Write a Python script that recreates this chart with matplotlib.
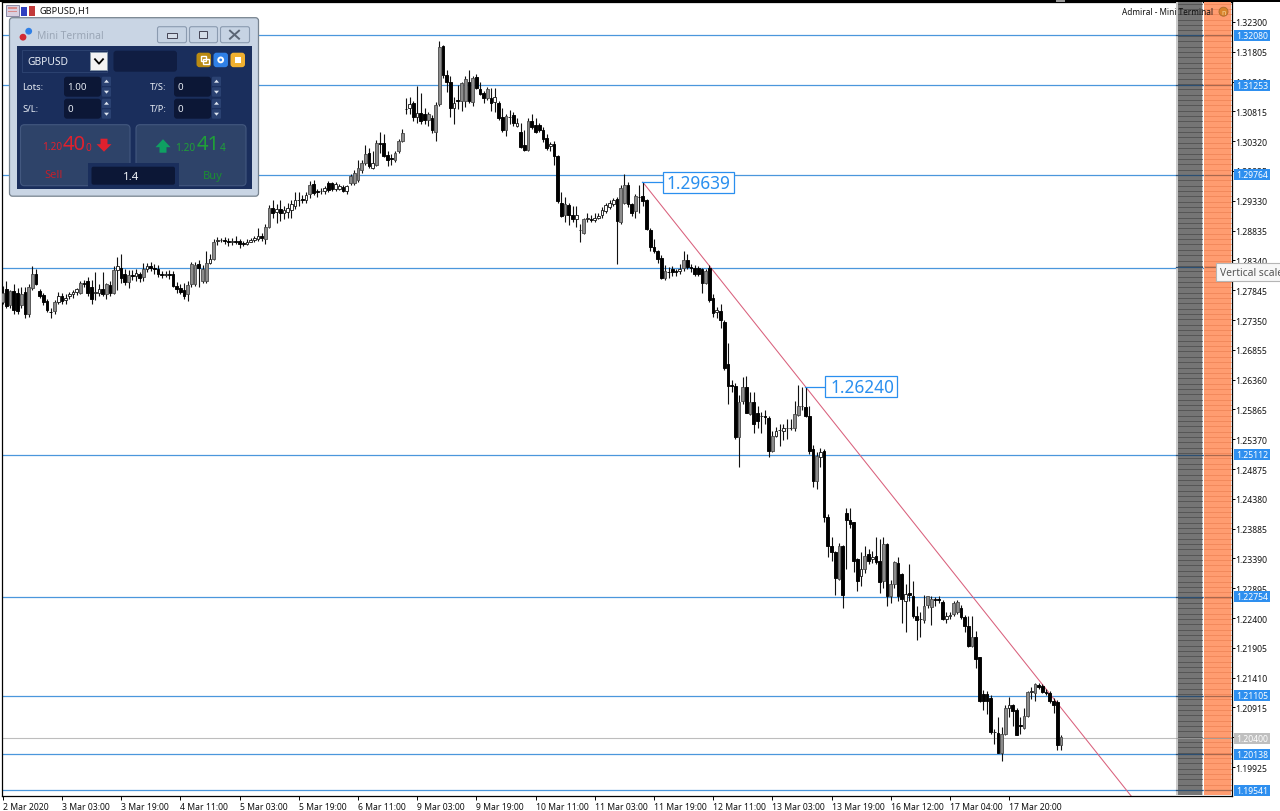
import matplotlib
matplotlib.use('Agg')
import matplotlib.pyplot as plt
from matplotlib.patches import Rectangle, FancyBboxPatch, Circle, Polygon
import numpy as np

plt.rcParams['font.family'] = ['Noto Sans', 'DejaVu Sans']

# hourly candles, price x 10000
opens = np.array([
    12765,12786,12760,12783,12780,12760,12782,12745,12788,12812,
    12783,12776,12766,12749,12750,12765,12775,12768,12775,12778,
    12782,12780,12797,12800,12790,12780,12780,12787,12778,12793,
    12780,12818,12822,12812,12798,12810,12808,12811,12806,12820,
    12824,12822,12820,12812,12810,12811,12812,12792,12788,12785,
    12778,12794,12795,12828,12800,12800,12830,12837,12866,12868,
    12868,12866,12864,12867,12866,12863,12862,12865,12868,12870,
    12875,12870,12890,12921,12915,12920,12913,12915,12918,12925,
    12935,12936,12935,12944,12961,12950,12950,12949,12963,12963,
    12952,12953,12956,12950,12963,12963,12968,12984,12995,13012,
    12988,12993,13029,13029,13009,13004,13000,13015,13032,13086,
    13087,13096,13072,13079,13078,13067,13070,13048,13093,13190,
    13142,13131,13087,13100,13098,13098,13131,13097,13139,13118,
    13112,13104,13104,13097,13095,13073,13050,13072,13075,13058,
    13048,13026,13018,13066,13059,13059,13050,13037,13024,13028,
    13007,12930,12910,12926,12910,12903,12884,12880,12903,12902,
    12901,12905,12910,12916,12922,12928,12936,12898,12930,12960,
    12927,12916,12940,12941,12934,12885,12857,12850,12838,12805,
    12815,12819,12816,12816,12821,12835,12823,12822,12821,12819,
    12797,12822,12772,12749,12750,12732,12662,12627,12625,12540,
    12600,12623,12579,12598,12580,12575,12576,12573,12518,12543,
    12552,12551,12556,12556,12556,12578,12592,12591,12575,12520,
    12468,12507,12517,12407,12360,12350,12305,12360,12414,12402,
    12399,12338,12310,12321,12346,12338,12343,12335,12302,12363,
    12277,12297,12332,12313,12269,12281,12277,12244,12238,12236,
    12261,12258,12272,12271,12266,12238,12244,12246,12250,12256,
    12242,12227,12194,12208,12175,12114,12114,12108,12050,12049,
    12016,12048,12091,12095,12088,12062,12057,12077,12117,12115,
    12129,12127,12117,12116,12103,12100,12029]) / 10000
highs = np.array([
    12791,12800,12785,12795,12788,12790,12790,12795,12824,12820,
    12787,12780,12770,12755,12768,12782,12780,12778,12782,12785,
    12788,12800,12802,12806,12802,12815,12795,12815,12797,12800,
    12825,12840,12844,12820,12818,12818,12820,12815,12830,12830,
    12832,12828,12826,12817,12816,12818,12817,12798,12795,12796,
    12800,12832,12832,12834,12826,12850,12845,12870,12873,12872,
    12873,12871,12872,12875,12870,12866,12870,12872,12875,12888,
    12880,12895,12926,12934,12928,12935,12925,12930,12935,12947,
    12947,12942,12948,12966,12968,12952,12955,12957,12966,12965,
    12964,12961,12960,12959,12978,12984,13000,13000,13025,13020,
    13016,13034,13048,13044,13016,13010,13015,13035,13052,13104,
    13105,13098,13124,13112,13087,13080,13075,13097,13199,13192,
    13150,13140,13106,13125,13130,13140,13150,13140,13143,13130,
    13115,13122,13120,13120,13098,13087,13078,13084,13080,13070,
    13062,13050,13070,13078,13070,13062,13055,13044,13030,13032,
    13009,12948,12940,12930,12925,12925,12895,12905,12912,12910,
    12912,12913,12922,12930,12935,12937,12940,12960,12977,12964,
    12930,12945,12960,12964,12936,12887,12870,12852,12843,12827,
    12823,12825,12820,12828,12850,12845,12828,12826,12824,12822,
    12820,12827,12778,12757,12762,12735,12697,12636,12630,12610,
    12640,12642,12615,12615,12592,12583,12585,12576,12550,12558,
    12563,12563,12570,12571,12600,12627,12624,12624,12592,12528,
    12516,12523,12520,12412,12375,12352,12365,12362,12423,12422,
    12400,12340,12350,12359,12354,12352,12375,12371,12375,12365,
    12303,12335,12342,12315,12296,12330,12302,12260,12250,12278,
    12277,12277,12275,12276,12270,12250,12250,12268,12270,12261,
    12245,12243,12243,12218,12176,12120,12118,12112,12056,12076,
    12059,12095,12109,12098,12090,12075,12090,12118,12125,12132,
    12132,12130,12122,12118,12107,12104,12046]) / 10000
lows = np.array([
    12761,12755,12755,12745,12745,12755,12738,12740,12785,12793,
    12772,12760,12748,12738,12745,12762,12762,12762,12770,12772,
    12777,12778,12790,12775,12762,12768,12775,12775,12770,12775,
    12778,12785,12797,12793,12788,12802,12800,12798,12800,12815,
    12816,12812,12806,12804,12806,12803,12790,12780,12778,12770,
    12767,12790,12792,12790,12797,12797,12828,12835,12860,12864,
    12862,12858,12860,12862,12855,12858,12860,12864,12865,12866,
    12866,12862,12888,12905,12896,12900,12903,12905,12905,12920,
    12925,12930,12930,12938,12943,12939,12944,12945,12948,12950,
    12950,12951,12948,12945,12960,12960,12965,12980,12992,12988,
    12985,12990,13012,13005,12990,12992,12998,13012,13030,13078,
    13077,13065,13062,13060,13060,13058,13045,13033,13091,13137,
    13114,13072,13060,13085,13082,13088,13095,13090,13118,13108,
    13095,13100,13082,13080,13068,13047,13040,13060,13058,13056,
    13020,13016,13015,13052,13046,13048,13030,13018,13016,12992,
    12930,12906,12898,12892,12898,12890,12865,12878,12898,12897,
    12897,12902,12905,12912,12920,12924,12828,12895,12928,12922,
    12907,12905,12912,12925,12885,12849,12846,12830,12803,12802,
    12804,12808,12808,12812,12817,12820,12815,12808,12808,12780,
    12795,12765,12740,12738,12721,12652,12595,12615,12538,12491,
    12595,12580,12577,12548,12555,12547,12562,12508,12515,12540,
    12525,12535,12538,12552,12550,12575,12585,12574,12512,12457,
    12455,12491,12400,12341,12335,12278,12303,12257,12322,12390,
    12317,12285,12293,12315,12329,12332,12330,12281,12290,12260,
    12265,12290,12268,12232,12217,12268,12240,12204,12208,12232,
    12257,12229,12260,12265,12236,12232,12238,12243,12247,12238,
    12217,12192,12192,12157,12100,12088,12080,12048,12030,12016,
    12003,12045,12075,12060,12045,12048,12055,12075,12105,12102,
    12122,12115,12112,12099,12082,12021,12021]) / 10000
closes = np.array([
    12780,12758,12783,12752,12750,12778,12745,12790,12812,12795,
    12775,12765,12752,12748,12765,12775,12767,12772,12778,12781,
    12786,12797,12795,12780,12770,12782,12787,12778,12794,12780,
    12818,12825,12805,12798,12810,12808,12813,12805,12820,12824,
    12822,12820,12812,12810,12811,12810,12792,12786,12782,12775,
    12793,12828,12826,12822,12820,12830,12837,12865,12868,12868,
    12866,12864,12867,12865,12862,12862,12865,12868,12871,12874,
    12872,12890,12921,12913,12920,12913,12917,12921,12927,12934,
    12935,12934,12943,12960,12946,12948,12950,12954,12951,12952,
    12961,12958,12950,12957,12974,12980,12987,12996,13011,12990,
    12996,13029,13028,13007,13001,13002,13013,13032,13045,13085,
    13094,13072,13079,13065,13067,13078,13051,13092,13188,13142,
    13131,13087,13095,13099,13128,13135,13098,13137,13120,13110,
    13104,13118,13096,13105,13070,13050,13074,13072,13062,13062,
    13023,13018,13066,13056,13048,13050,13036,13021,13028,13007,
    12932,12908,12927,12910,12902,12910,12884,12903,12904,12901,
    12905,12908,12918,12926,12930,12935,12899,12955,12960,12927,
    12913,12941,12939,12933,12886,12857,12850,12837,12805,12816,
    12814,12814,12814,12820,12834,12823,12822,12811,12811,12797,
    12817,12769,12747,12752,12735,12656,12626,12625,12540,12598,
    12623,12581,12598,12562,12568,12575,12574,12518,12543,12551,
    12553,12556,12556,12556,12579,12593,12592,12576,12518,12468,
    12509,12515,12407,12360,12349,12307,12360,12278,12402,12396,
    12335,12302,12321,12343,12335,12342,12333,12300,12363,12277,
    12297,12333,12276,12272,12280,12278,12244,12236,12238,12260,
    12276,12272,12270,12270,12238,12243,12245,12265,12266,12241,
    12227,12194,12208,12172,12102,12102,12103,12050,12050,12016,
    12048,12090,12095,12086,12045,12060,12077,12117,12118,12130,
    12126,12117,12116,12102,12095,12029,12042]) / 10000

levels = [1.32080, 1.31253, 1.29764, 1.28222, 1.25112, 1.22754, 1.21105, 1.20138, 1.19541]
level_labels = ['1.32080', '1.31253', '1.29764', None, '1.25112', '1.22754', '1.21105', '1.20138', '1.19541']
bid = 1.20400
scale_ticks = ['1.32300', '1.31805', '1.31310', '1.30815', '1.30320', '1.29825', '1.29330', '1.28835',
               '1.28340', '1.27845', '1.27350', '1.26855', '1.26360', '1.25865', '1.25370', '1.24875',
               '1.24380', '1.23885', '1.23390', '1.22895', '1.22400', '1.21905', '1.21410', '1.20915',
               '1.20420', '1.19925']
time_labels = ['2 Mar 2020', '3 Mar 03:00', '3 Mar 19:00', '4 Mar 11:00', '5 Mar 03:00', '5 Mar 19:00',
               '6 Mar 11:00', '9 Mar 03:00', '9 Mar 19:00', '10 Mar 11:00', '11 Mar 03:00', '11 Mar 19:00',
               '12 Mar 11:00', '13 Mar 03:00', '13 Mar 19:00', '16 Mar 12:00', '17 Mar 04:00', '17 Mar 20:00']
trend_start = (173, 1.29639)
trend_mid = (217, 1.26240)

W, H = 1280, 812
SHIFT = 0.7  # everything sat a hair too high
fig = plt.figure(figsize=(W / 100, H / 100), dpi=100, facecolor='white')
# chart area: x 2..1231, y 2..796 in pixels
ax = fig.add_axes([2 / W, (H - 796 - SHIFT) / H, 1229.5 / W, 794 / H])
ax.set_xlim(-0.19, 332.1)
ax.set_ylim(1.19449, 1.32637)
for s in ax.spines.values():
    s.set_linewidth(0.9)
    s.set_color('black')

# levels and bid line
line_blue = '#4a97dc'
for lv in levels:
    ax.axhline(lv, color=line_blue, lw=0.9, zorder=1)
ax.axhline(bid, color='#bdbdbd', lw=0.8, zorder=1)

# trend line
slope = (trend_mid[1] - trend_start[1]) / (trend_mid[0] - trend_start[0])
tx = np.array([trend_start[0], 310])
ax.plot(tx, trend_start[1] + slope * (tx - trend_start[0]), color='#d9607c', lw=0.75, zorder=2)

# candles, long up bodies read as grey at this scale
idx = np.arange(len(opens))
ax.vlines(idx, lows, highs, color='#111111', lw=0.8, zorder=3)
up = closes >= opens
tall = (closes - opens) > 0.0011
small_up = up & ~tall
ax.bar(idx[small_up], (closes - opens)[small_up], bottom=opens[small_up], width=0.72, facecolor='white',
       edgecolor='#222222', linewidth=0.65, zorder=4)
ax.bar(idx[tall], (closes - opens)[tall], bottom=opens[tall], width=0.72, facecolor='#8c8c8c',
       edgecolor='#4a4a4a', linewidth=0.6, zorder=4)
ax.bar(idx[~up], (opens - closes)[~up], bottom=closes[~up], width=0.72, facecolor='black',
       edgecolor='black', linewidth=0.65, zorder=4)

# ticks
tick_y = [float(t) for t in scale_ticks]
ax.yaxis.tick_right()
ax.set_yticks(tick_y)
ax.set_yticklabels(scale_ticks, fontsize=6.2, color='#111111')
ax.tick_params(axis='y', length=2.5, width=0.7, pad=0.5)
tick_x = np.arange(len(time_labels)) * 16
ax.set_xticks(tick_x)
ax.set_xticklabels(time_labels, fontsize=6.2, color='#111111', ha='left')
ax.tick_params(axis='x', length=3, width=0.7, pad=1.5)

# overlay in pixel coordinates for the terminal furniture
ui = fig.add_axes([0, 0, 1, 1], zorder=10)
ui.set_xlim(0, W)
ui.set_ylim(H - SHIFT, -SHIFT)
ui.axis('off')
ui.patch.set_alpha(0)


def y_px(p):
    return 22.3 + (1.323 - p) * 6020


def box(x0, y0, x1, y1, fc, ec='none', lw=0.8, r=0, z=5):
    if r:
        p = FancyBboxPatch((x0 + r, y0 + r), x1 - x0 - 2 * r, y1 - y0 - 2 * r,
                           boxstyle='round,pad=%g,rounding_size=%g' % (r, r),
                           fc=fc, ec=ec, lw=lw, zorder=z)
    else:
        p = Rectangle((x0, y0), x1 - x0, y1 - y0, fc=fc, ec=ec, lw=lw, zorder=z)
    ui.add_patch(p)


def txt(x, y, s, size, color='white', ha='left', z=8, **kw):
    ui.text(x, y, s, fontsize=size, color=color, ha=ha, va='center', zorder=z, **kw)


# top border and header
box(0, -1, W, 2, '#000000', z=6)
box(1056, 0, 1065, 2.5, '#999999', z=7)
box(6, 5, 19, 16, '#d8cfe0', ec='#7a7a9a', lw=0.6)
box(8, 7.5, 17, 9, '#d88a8a', z=6)
box(8, 11, 17, 12.5, '#d88a8a', z=6)
box(21, 7, 27, 16, '#2f3fc0')
box(29, 6, 35, 16, '#c23a3a')
txt(40, 10.5, 'GBPUSD,H1', 6.6, '#111111')

# colour strips on the right
box(1176, 2, 1203, 795.5, '#c9c9c9', z=2)
box(1177.5, 2, 1202, 795.5, '#757575', z=3)
box(1204, 2, 1230.5, 795.5, '#ff9c70', z=3)
for yy in np.arange(4, 795, 5.35):
    ui.plot([1177.5, 1202], [yy, yy], color='#4d4d4d', lw=0.55, zorder=4)
    ui.plot([1204, 1230.5], [yy, yy], color='#ef8456', lw=0.55, zorder=4)
for lv in levels:
    yp = y_px(lv)
    ui.plot([1176, 1202], [yp, yp], color='#2b4f73', lw=0.9, zorder=4.5)
    ui.plot([1205, 1230.5], [yp, yp], color='#a8684e', lw=0.9, zorder=4.5)
ui.plot([1176, 1230.5], [y_px(bid)] * 2, color='#9a9a9a', lw=0.6, zorder=4.5)

txt(1122, 11.5, 'Admiral - Mini Terminal', 5.95, '#111111')
ui.add_patch(Circle((1223.5, 12), 4.5, fc='#d9822b', ec='#a86a30', lw=0.6, zorder=8))
txt(1223.5, 12.5, 'n', 5, '#f7d9a0', ha='center', z=9)

# price labels on the scale
for lv, lab in zip(levels, level_labels):
    if lab is None:
        continue
    yp = y_px(lv)
    box(1234, yp - 5.5, 1269.5, yp + 5.5, '#2e8fef', z=6)
    txt(1236.5, yp, lab, 6.2, 'white')
yp = y_px(bid)
box(1234, yp - 5.5, 1269.5, yp + 5.5, '#bfbfbf', z=6)
txt(1236.5, yp, '1.20400', 6.2, 'white')

# tooltip
box(1216, 263.5, 1281, 281.5, '#f7f7f7', ec='#b5b5b5', lw=0.8, z=7)
txt(1220, 272.5, 'Vertical scale', 7.4, '#555555')

# swing labels
label_blue = '#2a8fef'
ax_y1, ax_y2 = y_px(trend_start[1]), y_px(trend_mid[1])
ui.plot([642, 663], [ax_y1, ax_y1], color=label_blue, lw=0.9, zorder=6)
box(663, 172.5, 734, 193, 'white', ec=label_blue, lw=0.9, z=6)
txt(667, 183, '1.29639', 12.4, label_blue)
ui.plot([805, 825], [ax_y2, ax_y2], color=label_blue, lw=0.9, zorder=6)
box(825, 376, 897, 397.5, 'white', ec=label_blue, lw=0.9, z=6)
txt(830, 387, '1.26240', 12.4, label_blue)

# Mini Terminal panel
navy = '#1a2e5c'
field = '#0c1736'
spin = '#2b4272'
btn = '#2e4369'
box(9.5, 18, 258.5, 196.5, '#c9d5e4', ec='#77838f', lw=0.9, r=3, z=5)
box(17, 46, 251.5, 189.5, navy, z=6)
ui.add_patch(Circle((28.7, 31.5), 3.4, fc='#2f7fe6', zorder=7))
ui.add_patch(Circle((23, 37.5), 3.4, fc='#d12a35', zorder=7))
txt(37, 36, 'Mini Terminal', 7.4, '#9aa6b6')
for x0, x1 in [(157.5, 186.5), (189.5, 217.5), (220.5, 249.5)]:
    box(x0, 27, x1, 43, '#c6d3e3', ec='#8b9bb0', lw=0.8, r=2, z=7)
box(167, 33.5, 176.5, 38, '#d4dde8', ec='#445', lw=0.7, z=8)
box(199, 31, 207, 38, '#d4dde8', ec='#445', lw=0.7, z=8)
ui.plot([230, 239], [31, 39], color='#5a6575', lw=1.4, zorder=8)
ui.plot([230, 239], [39, 31], color='#5a6575', lw=1.4, zorder=8)

box(22, 50.5, 107, 72.5, navy, ec='#2c4270', lw=0.7, z=7)
txt(27, 61.5, 'GBPUSD', 7.4, '#e8edf5')
box(90, 52.5, 107, 70, '#f3f3f3', ec='#8899aa', lw=0.6, z=8)
ui.plot([95, 99, 103], [59.5, 64, 59.5], color='black', lw=1.3, zorder=9)
box(113.5, 51, 177, 72, '#101d42', r=3, z=7)
for x0, c in [(196.5, '#b98a12'), (213.5, '#2f80e6'), (230.5, '#f0b030')]:
    box(x0, 53, x0 + 14.5, 67.5, c, r=3, z=7)
ui.add_patch(Circle((220.7, 60.2), 3.4, fc='white', zorder=8))
ui.add_patch(Circle((220.7, 60.2), 1.4, fc='#2f80e6', zorder=9))
box(200.5, 56.5, 206, 61, 'none', ec='white', lw=1, z=8)
box(203, 59, 208.5, 64, 'none', ec='white', lw=1, z=8)
box(235, 57, 241, 63.5, 'white', z=8)

for lab, x_lab, x_f, val, yc in [('Lots:', 22.5, 64, '1.00', 87), ('T/S:', 150, 174, '0', 87),
                                 ('S/L:', 22.5, 64, '0', 109), ('T/P:', 150, 174, '0', 109)]:
    txt(x_lab, yc, lab, 6.8, '#e6ebf3')
    box(x_f, yc - 10, x_f + 37, yc + 10, field, r=3, z=7)
    txt(x_f + 3, yc, val, 7, '#e6ebf3')
    box(x_f + 38, yc - 10, x_f + 47, yc - 0.5, spin, r=1, z=7)
    box(x_f + 38, yc + 0.5, x_f + 47, yc + 10, spin, r=1, z=7)
    ui.add_patch(Polygon([[x_f + 40, yc - 4], [x_f + 42.5, yc - 7], [x_f + 45, yc - 4]], fc='#dfe6f0', zorder=8))
    ui.add_patch(Polygon([[x_f + 40, yc + 4], [x_f + 42.5, yc + 7], [x_f + 45, yc + 4]], fc='#dfe6f0', zorder=8))

box(20.5, 125, 130, 186, btn, ec='#43587f', lw=0.8, r=4, z=7)
box(136, 125, 246, 186, btn, ec='#43587f', lw=0.8, r=4, z=7)
box(88, 163.5, 179, 189.5, navy, z=8)
box(91.5, 167, 175, 185, field, r=2, z=9)
txt(131.5, 177, '1.4', 8.2, '#f0f3f8', ha='center', z=10)

red = '#e0212e'
green = '#1fa038'
txt(42, 147, '1.20', 7.2, red)
txt(63, 144.5, '40', 14.5, red)
txt(86, 147.5, '0', 7.2, red)
ui.add_patch(Polygon([[100.5, 139], [107.5, 139], [107.5, 144.5], [111.5, 144.5], [104, 152],
                      [96.5, 144.5], [100.5, 144.5]], fc=red, zorder=8))
ui.add_patch(Polygon([[163, 139.5], [170.5, 147.5], [166.5, 147.5], [166.5, 153], [159.5, 153],
                      [159.5, 147.5], [155.5, 147.5]], fc='#0fa062', zorder=8))
txt(175, 147.5, '1.20', 7.2, green)
txt(196.5, 144.5, '41', 14.5, green)
txt(220, 148, '4', 7.2, green)
txt(53.5, 175, 'Sell', 8, '#c0202c', ha='center')
txt(212.5, 175.5, 'Buy', 8, '#1b8f32', ha='center')

fig.savefig('out.png', dpi=100)
